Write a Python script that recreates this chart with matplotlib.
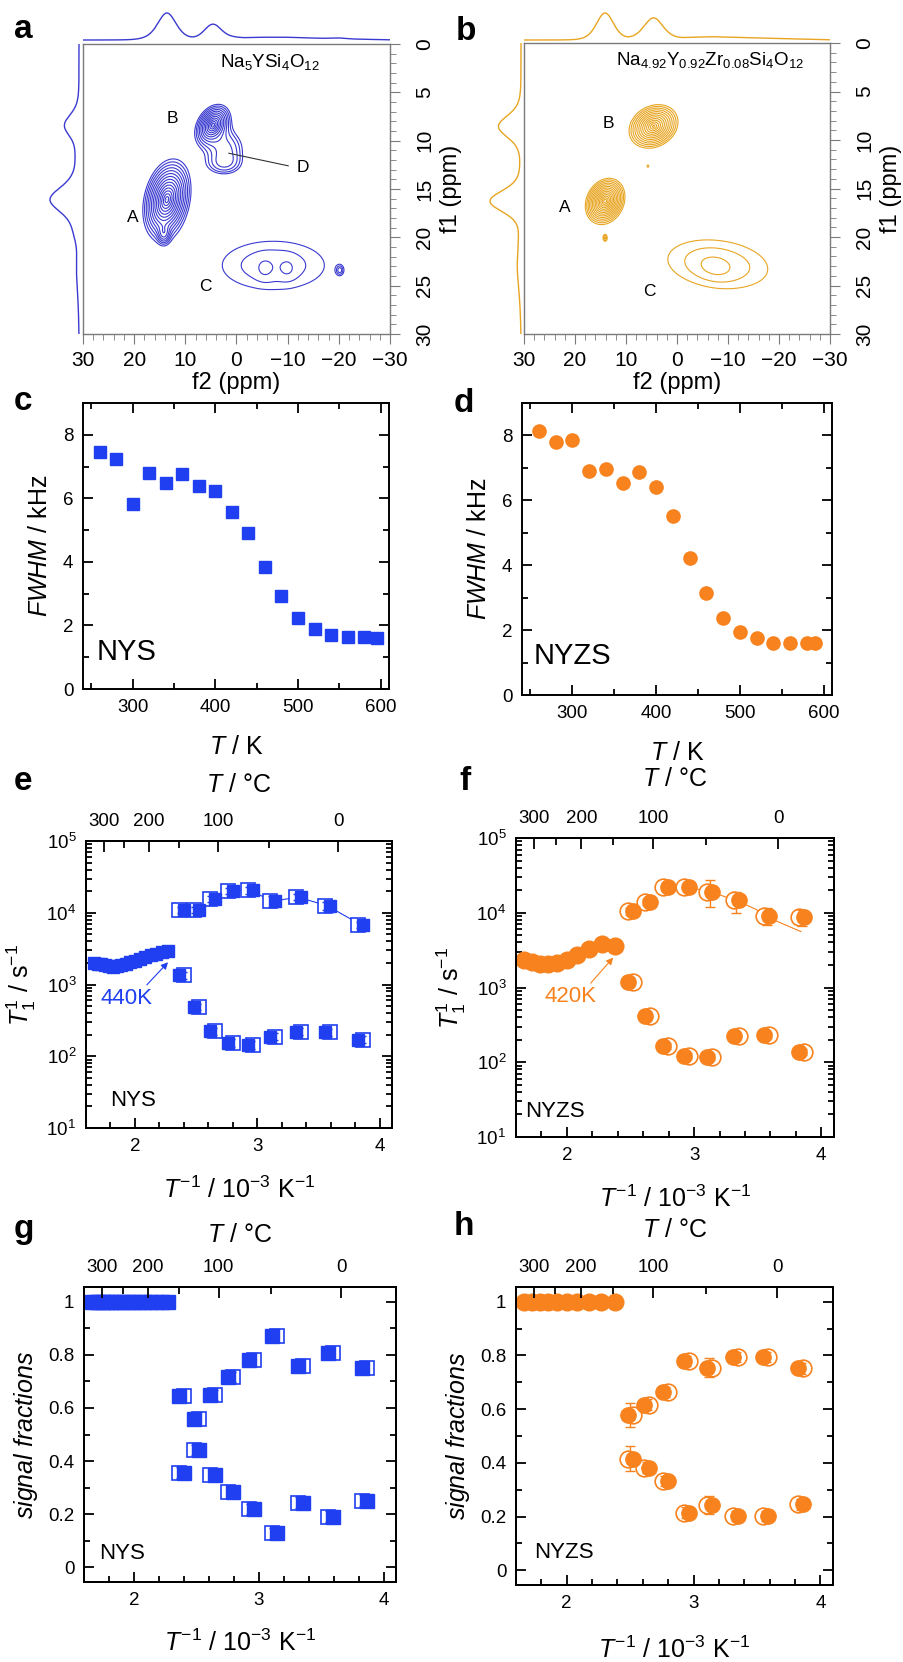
import numpy as np
import matplotlib
matplotlib.use("Agg")
import matplotlib.pyplot as plt
from matplotlib import transforms
from matplotlib.ticker import MultipleLocator, LogLocator, NullFormatter

plt.rcParams['font.family'] = ['Liberation Sans', 'DejaVu Sans']
plt.rcParams['mathtext.fontset'] = 'custom'
plt.rcParams['mathtext.rm'] = 'Liberation Sans'
plt.rcParams['mathtext.it'] = 'Liberation Sans:italic'
plt.rcParams['mathtext.bf'] = 'Liberation Sans:bold'

BLUE = '#1f3ff0'
ORANGE = '#f7821e'
NMR_BLUE = '#3a3ad0'
NMR_GOLD = '#e8a522'

# ---------------- data ----------------
# 2D NMR peaks (a: NYS, b: NYZS): centre f2/f1 (ppm), widths (ppm), tilt, height,
# shape exponent (1 = exponential-like, 2 = gaussian)
nys_f2 = [13.6, 14.2, 4.6, 2.0, 2.5, -7.2, -5.5, -10.0, -20.2]
nys_f1 = [16.1, 19.6, 8.4, 10.8, 12.5, 22.9, 23.3, 23.3, 23.4]
nys_w2 = [1.4, 0.7, 1.2, 2.5, 2.5, 11.2, 1.2, 1.2, 0.5]
nys_w1 = [1.25, 0.6, 0.75, 1.3, 0.8, 2.8, 0.8, 0.8, 0.35]
nys_rho = [0.25, 0.0, 0.3, 0.0, 0.0, 0.0, 0.0, 0.0, 0.0]
nys_amp = [1.0, 0.08, 0.62, 0.07, 0.05, 0.052, 0.010, 0.010, 0.04]
nys_shape = [1, 2, 1, 2, 2, 2, 2, 2, 2]

nyzs_f2 = [14.1, 14.1, 4.6, 5.7, -8.0, -7.4]
nyzs_f1 = [16.3, 20.1, 8.6, 12.7, 22.8, 23.1]
nyzs_w2 = [1.15, 0.35, 1.6, 0.3, 11.0, 2.5]
nyzs_w1 = [0.7, 0.3, 0.75, 0.2, 2.8, 0.9]
nyzs_rho = [0.2, 0.0, 0.2, 0.0, -0.2, -0.2]
nyzs_amp = [1.0, 0.05, 0.70, 0.037, 0.052, 0.012]
nyzs_shape = [1, 2, 1, 2, 2, 2]

# c, d: FWHM vs T
c_temp = [260, 280, 300, 320, 340, 360, 380, 400, 420, 440, 460, 480, 500, 520, 540, 560, 580, 595]
c_fwhm = [7.45, 7.23, 5.82, 6.80, 6.48, 6.76, 6.38, 6.22, 5.57, 4.91, 3.84, 2.93, 2.23, 1.89, 1.70, 1.64, 1.64, 1.60]
d_temp = [260, 280, 300, 320, 340, 360, 380, 400, 420, 440, 460, 480, 500, 520, 540, 560, 580, 590]
d_fwhm = [8.14, 7.80, 7.86, 6.90, 6.97, 6.53, 6.87, 6.41, 5.51, 4.21, 3.13, 2.38, 1.95, 1.76, 1.61, 1.61, 1.61, 1.61]

# e: NYS relaxation rates
e_hot_T = [600, 590, 580, 570, 560, 550, 540, 530, 520, 510, 500, 490, 480, 470, 460, 450, 440]
e_hot_rate = [2000, 1950, 1900, 1850, 1800, 1780, 1800, 1850, 1950, 2050, 2150, 2250, 2400, 2550, 2700, 2800, 2900]
e_cold_T = [420, 400, 380, 360, 340, 320, 300, 280, 260]
e_upper = [1.10e4, 1.10e4, 1.55e4, 2.00e4, 2.05e4, 1.45e4, 1.65e4, 1.25e4, 6.8e3]
e_upper_err = [1.2e3, 1.2e3, 1.5e3, 2.0e3, 2.0e3, 2.5e3, 1.5e3, 1.5e3, 7e2]
e_lower = [1360, 490, 225, 155, 144, 188, 220, 215, 171]
e_lower_err = [150, 50, 25, 20, 18, 22, 25, 25, 20]

# f: NYZS relaxation rates
f_hot_T = [600, 580, 560, 540, 520, 500, 480, 460, 440, 420]
f_hot_rate = [2360, 2200, 2090, 2050, 2150, 2360, 2750, 3250, 3860, 3550]
f_cold_T = [400, 380, 360, 340, 320, 300, 280, 260]
f_upper = [1.04e4, 1.39e4, 2.2e4, 2.2e4, 1.92e4, 1.49e4, 9.1e3, 8.9e3]
f_upper_lo = [1.0e3, 1.2e3, 2.0e3, 2.0e3, 7.3e3, 5.0e3, 2.2e3, 2.2e3]
f_upper_hi = [1.0e3, 1.2e3, 2.0e3, 2.0e3, 8.3e3, 4.3e3, 2.6e3, 2.1e3]
f_lower = [1180, 414, 165, 121, 118, 224, 229, 137]
f_lower_err = [100, 35, 14, 10, 10, 18, 18, 12]
f_fit_x = [2.78, 2.94, 3.13, 3.38, 3.49, 3.62, 3.84]
f_fit_rate = [2.2e4, 2.2e4, 1.92e4, 1.35e4, 1.1e4, 8.1e3, 5.6e3]

# g, h: signal fractions
g_upper = [0.643, 0.558, 0.649, 0.716, 0.781, 0.872, 0.756, 0.806, 0.750]
g_lower = [0.357, 0.442, 0.348, 0.283, 0.219, 0.128, 0.244, 0.191, 0.251]
g_err = [0.02, 0.02, 0.02, 0.02, 0.02, 0.02, 0.02, 0.02, 0.02]
h_upper = [0.578, 0.616, 0.664, 0.779, 0.754, 0.794, 0.794, 0.752]
h_lower = [0.416, 0.382, 0.332, 0.215, 0.243, 0.202, 0.202, 0.246]
h_err = [0.045, 0.02, 0.02, 0.02, 0.035, 0.02, 0.02, 0.02]

celsius_major = [300, 200, 100, 0]
celsius_minor = [250, 150, 50]
frac_ticks = [0, 0.2, 0.4, 0.6, 0.8, 1]
frac_labels = ['0', '0.2', '0.4', '0.6', '0.8', '1']

# ---------------- figure ----------------
W, H = 904, 1662
fig = plt.figure(figsize=(W / 100, H / 100), dpi=100)


def box(l, t, r, b):
    """pixel box (left, top, right, bottom) -> figure fraction rect"""
    return [l / W, 1 - b / H, (r - l) / W, (b - t) / H]


def peaks(F2, F1, c2, c1, w2, w1, rho, amp, shape):
    z = np.zeros_like(F2)
    for x0, y0, sx, sy, r, a, p in zip(c2, c1, w2, w1, rho, amp, shape):
        dx = (F2 - x0) / sx
        dy = (F1 - y0) / sy
        q = (dx ** 2 - 2 * r * dx * dy + dy ** 2) / (1 - r ** 2)
        z += a * np.exp(-q ** (p / 2) / p)
    return z


def smooth(y, step, width):
    k = np.arange(-4 * width, 4 * width + step, step)
    k = np.exp(-0.5 * (k / width) ** 2)
    return np.convolve(y, k / k.sum(), mode='same')


f2_grid = np.linspace(-30, 30, 901)
f1_grid = np.linspace(0, 30, 601)
F2, F1 = np.meshgrid(f2_grid, f1_grid)
levels = 0.035 * 1.27 ** np.arange(15)


def nmr_panel(main_px, top_px, left_px, top_lim, left_lim, z, color, title, title_pos):
    ax = fig.add_axes(box(*main_px))
    ax.contour(F2, F1, z, levels=levels, colors=color, linewidths=0.8)
    ax.set_xlim(30, -30)
    ax.set_ylim(30, 0)
    for s in ax.spines.values():
        s.set_color('#7a7a7a')
        s.set_linewidth(1.0)
    ax.xaxis.set_major_locator(MultipleLocator(10))
    ax.xaxis.set_minor_locator(MultipleLocator(2))
    ax.set_yticks([0, 5, 10, 15, 20, 25, 30])
    ax.yaxis.set_minor_locator(MultipleLocator(1))
    ax.yaxis.tick_right()
    ax.yaxis.set_label_position('right')
    ax.tick_params(which='both', direction='out', color='#7a7a7a', labelsize=15)
    ax.tick_params(which='major', length=7)
    ax.tick_params(which='minor', length=4)
    ax.tick_params(axis='x', pad=5)
    ax.tick_params(axis='y', labelrotation=90, pad=11)
    for lbl in ax.get_yticklabels():
        lbl.set_va('center')
    ax.set_xlabel('f2 (ppm)', fontsize=17, labelpad=2)
    ax.set_ylabel('f1 (ppm)', fontsize=17, labelpad=4)
    ax.text(title_pos[0], title_pos[1], title, ha='center', va='center', fontsize=13.5)

    # skyline projections, lightly broadened
    top = smooth(z.max(axis=0), 60 / 900, 1.2)
    left = smooth(z.max(axis=1), 30 / 600, 0.8)
    ax_t = fig.add_axes(box(*top_px))
    ax_t.plot(f2_grid, top / top.max(), color=color, lw=1.0)
    ax_t.set_xlim(30, -30)
    ax_t.set_ylim(*top_lim)
    ax_t.axis('off')
    ax_l = fig.add_axes(box(*left_px))
    ax_l.plot(left / left.max(), f1_grid, color=color, lw=1.0)
    ax_l.set_ylim(30, 0)
    ax_l.set_xlim(*left_lim)
    ax_l.axis('off')
    return ax


# a
z_a = peaks(F2, F1, nys_f2, nys_f1, nys_w2, nys_w1, nys_rho, nys_amp, nys_shape)
ax_a = nmr_panel((83, 44, 390, 334), (83, 6, 390, 44), (40, 44, 83, 334),
                 (-0.148, 1.259), (1.345, -0.138), z_a, NMR_BLUE,
                 r'Na$_5$YSi$_4$O$_{12}$', (-6.5, 1.9))
for tag, x, y in zip(['A', 'B', 'C', 'D'], [20.2, 12.6, 6.0, -13.0], [18.0, 7.7, 25.1, 12.8]):
    ax_a.text(x, y, tag, ha='center', va='center', fontsize=12.5)
ax_a.plot([1.5, -10.1], [11.3, 12.6], color='#333333', lw=0.8)

# b
z_b = peaks(F2, F1, nyzs_f2, nyzs_f1, nyzs_w2, nyzs_w1, nyzs_rho, nyzs_amp, nyzs_shape)
ax_b = nmr_panel((524, 43, 830, 334), (524, 6, 830, 44), (480, 43, 524, 334),
                 (-0.148, 1.259), (1.323, -0.097), z_b, NMR_GOLD,
                 r'Na$_{4.92}$Y$_{0.92}$Zr$_{0.08}$Si$_4$O$_{12}$', (-6.5, 1.8))
for tag, x, y in zip(['A', 'B', 'C'], [22.0, 13.5, 5.5], [17.0, 8.35, 25.6]):
    ax_b.text(x, y, tag, ha='center', va='center', fontsize=12.5)


def style(ax, top=True):
    for s in ax.spines.values():
        s.set_linewidth(1.4)
    ax.tick_params(which='both', direction='in', top=top, right=True,
                   labelsize=13.5, width=1.3, pad=7)
    ax.tick_params(which='major', length=7)
    ax.tick_params(which='minor', length=4)


def fwhm_panel(rect, temp, fwhm, marker, ms, color, tag, tag_xy):
    ax = fig.add_axes(box(*rect))
    ax.plot(temp, fwhm, marker, ms=ms, color=color, mec=color, ls='none')
    ax.set_xlim(240, 610)
    ax.set_ylim(0, 9)
    ax.xaxis.set_major_locator(MultipleLocator(100))
    ax.xaxis.set_minor_locator(MultipleLocator(50))
    ax.yaxis.set_major_locator(MultipleLocator(2))
    ax.yaxis.set_minor_locator(MultipleLocator(1))
    style(ax)
    ax.set_xlabel(r'$T$ / K', fontsize=18, labelpad=14)
    ax.set_ylabel(r'$FWHM$ / kHz', fontsize=18, labelpad=8)
    ax.text(tag_xy[0], tag_xy[1], tag, fontsize=21, ha='left', va='center')
    return ax


fwhm_panel((83, 403, 389, 689), c_temp, c_fwhm, 's', 8.5, BLUE, 'NYS', (257, 1.16))
fwhm_panel((522, 403, 832, 695), d_temp, d_fwhm, 'o', 9.5, ORANGE, 'NYZS', (254, 1.2))


def celsius_axis(ax, pad_label):
    tw = ax.twiny()
    tw.set_xlim(ax.get_xlim())
    tw.set_xticks(1000 / (np.array(celsius_major) + 273.15))
    tw.set_xticklabels([str(v) for v in celsius_major])
    tw.set_xticks(1000 / (np.array(celsius_minor) + 273.15), minor=True)
    tw.tick_params(which='both', direction='in', labelsize=13.5, width=1.3, pad=8)
    tw.tick_params(which='major', length=8)
    tw.tick_params(which='minor', length=5)
    tw.set_xlabel(r'$T$ / °C', fontsize=18, labelpad=pad_label)
    for s in tw.spines.values():
        s.set_linewidth(1.4)


def split_marker(ax, x, y, err, marker, ms, color, open_side):
    """open marker partly hidden under a filled one, plus error bars"""
    sign = -1 if open_side == 'left' else 1
    t_open = transforms.offset_copy(ax.transData, fig=fig, x=2.5 * sign, y=0, units='dots')
    t_fill = transforms.offset_copy(ax.transData, fig=fig, x=-2.5 * sign, y=0, units='dots')
    ax.plot(x, y, marker, ms=ms, mfc='white', mec=color, mew=1.2, ls='none', transform=t_open)
    ax.plot(x, y, marker, ms=ms - 1, mfc=color, mec=color, mew=1.0, ls='none', transform=t_fill)
    ax.errorbar(x, y, yerr=err, fmt='none', ecolor=color, elinewidth=1.0, capsize=3.5)


def rate_panel(rect, hot_T, hot_rate, cold_T, upper, upper_err, lower, lower_err,
               fit_x, fit_y, marker, ms_hot, ms_cold, color, up_open, low_open,
               tag, tag_xy, arrow_txt, txt_xy, arrow_xy, label_pads):
    ax = fig.add_axes(box(*rect))
    ax.set_yscale('log')
    ax.set_xlim(1.6, 4.1)
    ax.set_ylim(10, 1e5)
    x_hot = 1000 / np.array(hot_T)
    x_cold = 1000 / np.array(cold_T)
    ax.plot(x_hot, hot_rate, marker, ms=ms_hot, color=color, mec=color, ls='none')
    ax.plot(fit_x, fit_y, '-', color=color, lw=0.8)
    split_marker(ax, x_cold, upper, upper_err, marker, ms_cold, color, up_open)
    split_marker(ax, x_cold, lower, lower_err, marker, ms_cold, color, low_open)
    ax.xaxis.set_major_locator(MultipleLocator(1))
    ax.xaxis.set_minor_locator(MultipleLocator(0.2))
    ax.yaxis.set_major_locator(LogLocator(base=10, numticks=10))
    ax.yaxis.set_minor_locator(LogLocator(base=10, subs=np.arange(2, 10), numticks=10))
    ax.yaxis.set_minor_formatter(NullFormatter())
    style(ax, top=False)
    ax.set_xlabel(r'$T^{-1}$ / 10$^{-3}$ K$^{-1}$', fontsize=18, labelpad=label_pads[0])
    ax.set_ylabel(r'$T_1^{1}$ / s$^{-1}$', fontsize=18, labelpad=6)
    ax.text(tag_xy[0], tag_xy[1], tag, fontsize=16, ha='left', va='center')
    ax.annotate(arrow_txt, xy=arrow_xy, xytext=txt_xy, ha='center', va='center',
                color=color, fontsize=16,
                arrowprops=dict(arrowstyle='-|>', color=color, lw=0.8,
                                mutation_scale=10, shrinkA=0, shrinkB=0,
                                relpos=(0.85, 1.0)))
    celsius_axis(ax, label_pads[1])
    return ax


x_cold_e = 1000 / np.array(e_cold_T)
rate_panel((86, 841, 392, 1128), e_hot_T, e_hot_rate, e_cold_T,
           e_upper, e_upper_err, e_lower, e_lower_err,
           x_cold_e[3:], e_upper[3:], 's', 9, 10, BLUE, 'left', 'right',
           'NYS', (1.80, 24.5), '440K', (1.927, 645), (2.27, 2040), (16, 15))
rate_panel((516, 838, 834, 1137), f_hot_T, f_hot_rate, f_cold_T,
           f_upper, [f_upper_lo, f_upper_hi], f_lower, f_lower_err,
           f_fit_x, f_fit_rate, 'o', 12, 12, ORANGE, 'left', 'right',
           'NYZS', (1.67, 22), '420K', (2.025, 760), (2.364, 2510), (16, 17))


def frac_panel(rect, hot_T, cold_T, upper, lower, err, marker, ms, color,
               up_open, low_open, tag, tag_xy, label_pads):
    ax = fig.add_axes(box(*rect))
    ax.set_xlim(1.6, 4.1)
    ax.set_ylim(-0.055, 1.055)
    x_hot = 1000 / np.array(hot_T)
    x_cold = 1000 / np.array(cold_T)
    ax.plot(x_hot, np.ones(len(hot_T)), marker, ms=ms, color=color, mec=color, ls='none')
    split_marker(ax, x_cold, upper, err, marker, ms, color, up_open)
    split_marker(ax, x_cold, lower, err, marker, ms, color, low_open)
    ax.xaxis.set_major_locator(MultipleLocator(1))
    ax.xaxis.set_minor_locator(MultipleLocator(0.2))
    ax.set_yticks(frac_ticks)
    ax.set_yticklabels(frac_labels)
    ax.yaxis.set_minor_locator(MultipleLocator(0.1))
    style(ax, top=False)
    ax.set_xlabel(r'$T^{-1}$ / 10$^{-3}$ K$^{-1}$', fontsize=18, labelpad=label_pads[0])
    ax.set_ylabel(r'$signal\ fractions$', fontsize=18, labelpad=6)
    ax.text(tag_xy[0], tag_xy[1], tag, fontsize=16, ha='left', va='center')
    celsius_axis(ax, label_pads[1])
    return ax


frac_panel((84, 1287, 396, 1582), e_hot_T, e_cold_T, g_upper, g_lower, g_err,
           's', 10.5, BLUE, 'right', 'left', 'NYS', (1.725, 0.054), (15, 12))
frac_panel((516, 1287, 833, 1585), f_hot_T, f_cold_T, h_upper, h_lower, h_err,
           'o', 12, ORANGE, 'right', 'left', 'NYZS', (1.746, 0.066), (18, 16))

# panel letters
for letter, x, y in zip(['a', 'b', 'c', 'd', 'e', 'f', 'g', 'h'],
                        [14, 456, 14, 454, 14, 459, 14, 454],
                        [38, 40, 410, 412, 790, 790, 1238, 1235]):
    fig.text(x / W, 1 - y / H, letter, fontsize=24, fontweight='bold',
             ha='left', va='baseline')

fig.savefig('out.png', dpi=100)
